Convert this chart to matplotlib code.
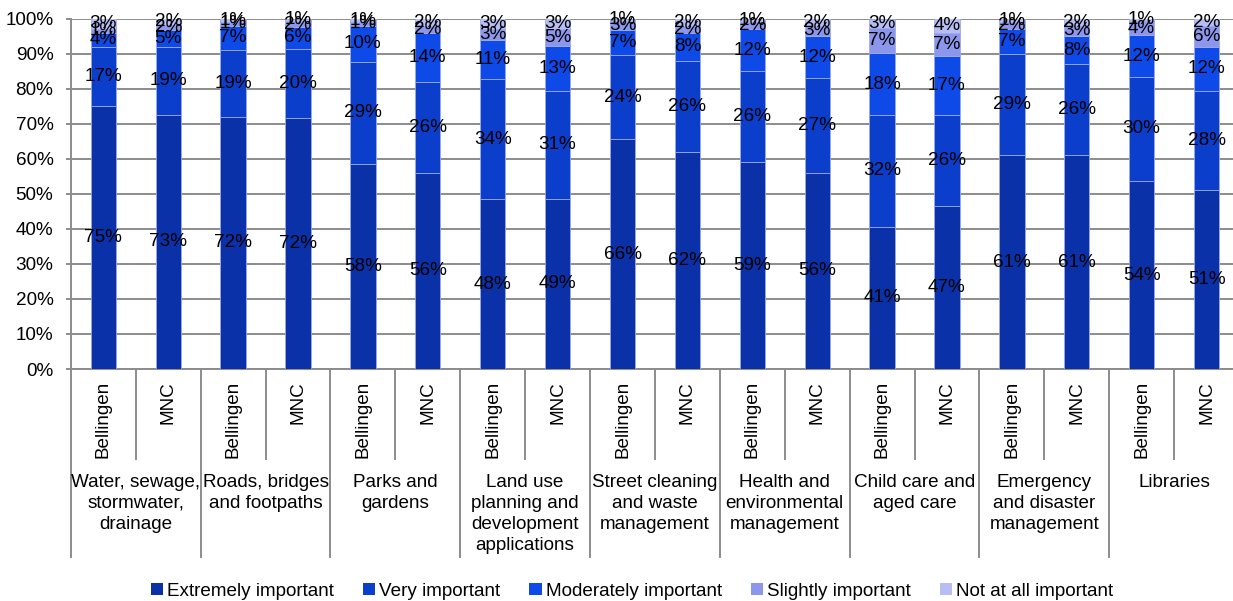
import matplotlib
matplotlib.use("Agg")
import matplotlib.pyplot as plt
import numpy as np
from matplotlib.patches import Patch

plt.rcParams['font.family'] = ['Liberation Sans', 'DejaVu Sans']
FS = 13.6
plt.rcParams['font.size'] = FS

# --- data (percent of respondents) ---
groups = ["Water, sewage,\nstormwater,\ndrainage", "Roads, bridges\nand footpaths",
          "Parks and\ngardens", "Land use\nplanning and\ndevelopment\napplications",
          "Street cleaning\nand waste\nmanagement", "Health and\nenvironmental\nmanagement",
          "Child care and\naged care", "Emergency\nand disaster\nmanagement", "Libraries"]
councils = ["Bellingen", "MNC"]
levels = ["Extremely important", "Very important", "Moderately important",
          "Slightly important", "Not at all important"]

extremely  = [75, 72.6, 72, 71.6, 58.4, 56, 48.4, 48.6, 65.6, 62, 59, 56, 40.6, 46.6, 61, 61, 53.6, 51]
very       = [17, 19.2, 19, 19.8, 29.3, 26, 34.4, 30.8, 24, 26, 26, 27, 31.8, 25.8, 29, 26, 29.8, 28.4]
moderately = [4, 4.8, 7, 6.2, 10.3, 14, 11.2, 12.8, 7, 8, 12, 12, 17.8, 16.8, 7, 8, 11.8, 12.4]
slightly   = [1, 1.6, 1, 1.6, 1.0, 2, 3, 4.8, 2.6, 2, 2, 3, 7, 6.8, 2, 3, 4, 6.2]
not_at_all = [3, 1.8, 1, 0.8, 1.0, 2, 3, 3, 0.8, 2, 1, 2, 2.8, 4, 1, 2, 0.8, 2]

COLORS = ["#0a31a8", "#0b3ecb", "#0d4ae8", "#8c96ec", "#b8bef4"]
EDGE = "#9aaae8"
GRAY = "#8c8c8c"

W, H = 1233, 601
X0, X1 = 70.9, 1239.0     # plot area, pixels
YT, YB = 18.5, 369.0

fig = plt.figure(figsize=(W / 100, H / 100), dpi=100)
ax = fig.add_axes([X0 / W, 1 - YB / H, (X1 - X0) / W, (YB - YT) / H])

n = len(extremely)
x = np.arange(n)
bottom = np.zeros(n)
for vals, col in zip([extremely, very, moderately, slightly, not_at_all], COLORS):
    vals = np.array(vals, dtype=float)
    ax.bar(x, vals, 0.39, bottom=bottom, color=col, edgecolor=EDGE,
           linewidth=0.6, zorder=3)
    for xi, b, v in zip(x, bottom, vals):
        ax.text(xi, b + v / 2, "%d%%" % round(v), ha="center", va="center",
                fontsize=FS, zorder=4)
    bottom += vals

ax.set_xlim(-0.5, n - 0.5)
ax.set_ylim(0, 100)
ax.set_yticks(range(0, 101, 10))
ax.set_yticklabels(["%d%%" % v for v in range(0, 101, 10)])
ax.set_xticks([])
ax.yaxis.grid(True, color=GRAY, linewidth=1.4, zorder=0)
ax.set_axisbelow(True)
for s in ["top", "right"]:
    ax.spines[s].set_visible(False)
for s in ["left", "bottom"]:
    ax.spines[s].set_color(GRAY)
    ax.spines[s].set_linewidth(1.4)
ax.tick_params(axis="y", length=3.6, width=1.4, color=GRAY, pad=9.0, labelsize=FS)

# multi-level category axis
tr = ax.get_xaxis_transform()
fy = lambda ypx: (YB - ypx) / (YB - YT)
for i in range(n):
    ax.text(i, fy(381), councils[i % 2], rotation=90, ha="center", va="top",
            transform=tr, fontsize=FS)
for k in range(len(groups)):
    ax.plot([2 * k + 0.5] * 2, [fy(YB), fy(459)], color=GRAY, lw=1.4,
            transform=tr, clip_on=False)
    ax.text(2 * k + 0.5, fy(474), groups[k], ha="center", va="top",
            transform=tr, fontsize=FS, linespacing=1.3)
for k in range(len(groups) + 1):
    ax.plot([2 * k - 0.5] * 2, [fy(YB), fy(557)], color=GRAY, lw=1.4,
            transform=tr, clip_on=False)

handles = [Patch(facecolor=c, edgecolor="none", label=l) for c, l in zip(COLORS, levels)]
fig.legend(handles=handles, loc="center", bbox_to_anchor=(632 / W, 1 - 591 / H),
           ncol=5, frameon=False, fontsize=FS, handlelength=0.65, handleheight=0.65,
           handletextpad=0.2, columnspacing=1.55, borderaxespad=0)

fig.savefig("out.png", dpi=100)
